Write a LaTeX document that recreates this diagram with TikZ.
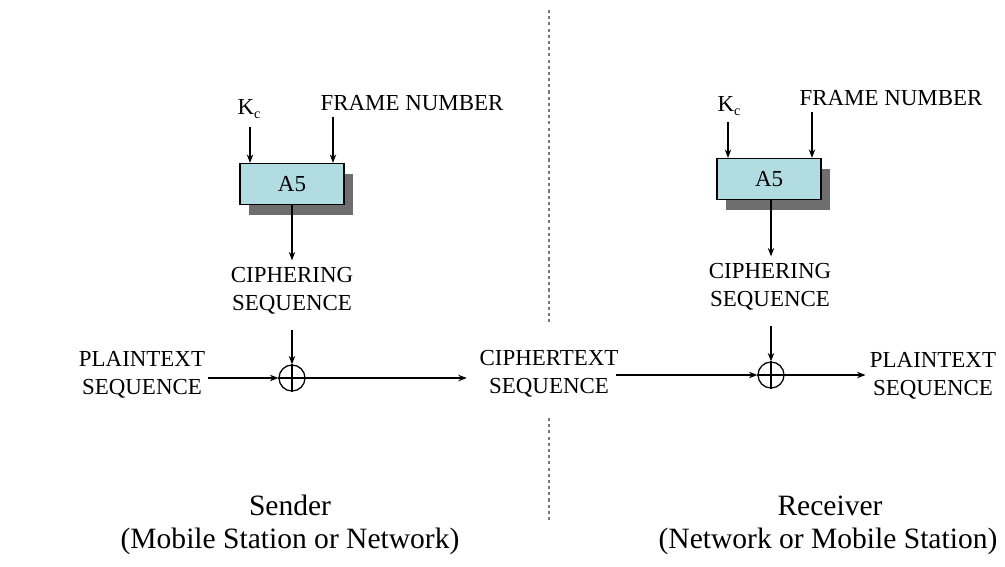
\documentclass[tikz,border=0pt]{standalone}
\usepackage{fontspec}
\setmainfont{Liberation Serif}
\usetikzlibrary{arrows.meta,shadows}
\definecolor{boxfill}{RGB}{176,220,226}
\definecolor{shadowgray}{RGB}{110,110,110}
\definecolor{sepgray}{RGB}{120,120,120}
\newcommand{\keyname}{K\raisebox{-3pt}{\fontsize{10}{10}\selectfont c}}
\begin{document}
\begin{tikzpicture}[x=0.025cm,y=-0.025cm,
  lbl/.style={font=\fontsize{16.3}{19.8}\selectfont, align=center, inner sep=2pt},
  caption text/.style={font=\fontsize{21}{24}\selectfont, inner sep=0pt, anchor=base},
  cipherbox/.style={draw=black, line width=0.8pt, fill=boxfill, minimum width=2.6cm, minimum height=1.03cm,
    font=\fontsize{16.3}{20}\selectfont,
    drop shadow={shadow xshift=0.23cm, shadow yshift=-0.26cm, fill=shadowgray, opacity=1}},
  xorop/.style={circle, draw=black, line width=0.9pt, minimum size=0.65cm, inner sep=0pt},
  flow/.style={line width=0.8pt, -{Stealth[length=6pt,width=4.6pt]}},
  plain/.style={line width=0.8pt}
]
\useasboundingbox (0,0) rectangle (1005,566);

% dotted separator between the two stations
\draw[sepgray, line width=1.2pt, dash pattern=on 2.2pt off 2.2pt] (549,10) -- (549,322);
\draw[sepgray, line width=1.2pt, dash pattern=on 2.2pt off 2.2pt] (549,418) -- (549,523);

% ---------- sender ----------
\node[cipherbox] (a51) at (292,184) {A5};
\node[lbl, anchor=base] (kc1) at (249,114) {\keyname};
\node[lbl, anchor=base] (fn1) at (412,110) {FRAME NUMBER};
\coordinate (ka1) at (250,127);
\coordinate (fa1) at (333,117);
\draw[flow] (ka1) -- (ka1 |- a51.north);
\draw[flow] (fa1) -- (fa1 |- a51.north);
\node[lbl] (cs1) at (292,291) {CIPHERING\\SEQUENCE};
\node[xorop] (x1) at (292,378) {};
\draw[plain] (x1.north) -- (x1.south) (x1.west) -- (x1.east);
\draw[flow, shorten >=3pt] (a51.south) -- (cs1.north);
\draw[flow, shorten <=9pt] (cs1.south) -- (x1.north);
\node[lbl] (pt1) at (142,375) {PLAINTEXT\\SEQUENCE};
\draw[flow] (pt1.east |- x1.center) -- (x1.west);

% ---------- channel ----------
\node[lbl] (ct) at (549,374) {CIPHERTEXT\\SEQUENCE};
\draw[flow, shorten >=7pt] (x1.east) -- (ct.west |- x1.center);

% ---------- receiver ----------
\node[cipherbox] (a52) at (769,179) {A5};
\node[lbl, anchor=base] (kc2) at (729,111) {\keyname};
\node[lbl, anchor=base] (fn2) at (891,105) {FRAME NUMBER};
\coordinate (ka2) at (728,122);
\coordinate (fa2) at (812,112);
\draw[flow] (ka2) -- (ka2 |- a52.north);
\draw[flow] (fa2) -- (fa2 |- a52.north);
\node[lbl] (cs2) at (770,287) {CIPHERING\\SEQUENCE};
\node[xorop] (x2) at (771,375) {};
\draw[plain] (x2.north) -- (x2.south) (x2.west) -- (x2.east);
\draw[flow, shorten >=3pt] (a52.south -| x2) -- (cs2.north -| x2);
\draw[flow, shorten <=9pt] (cs2.south -| x2) -- (x2.north);
\draw[flow] ([xshift=-4pt]ct.east |- x2.center) -- (x2.west);
\node[lbl] (pt2) at (933,376) {PLAINTEXT\\SEQUENCE};
\draw[flow, shorten >=1pt] (x2.east) -- (pt2.west |- x2.center);

% ---------- captions ----------
\node[caption text] (snd) at (290,515) {Sender};
\node[caption text] (sndrole) at (290,548) {(Mobile Station or Network)};
\node[caption text] (rcv) at (830,515) {Receiver};
\node[caption text] (rcvrole) at (828,548) {(Network or Mobile Station)};
\end{tikzpicture}
\end{document}
